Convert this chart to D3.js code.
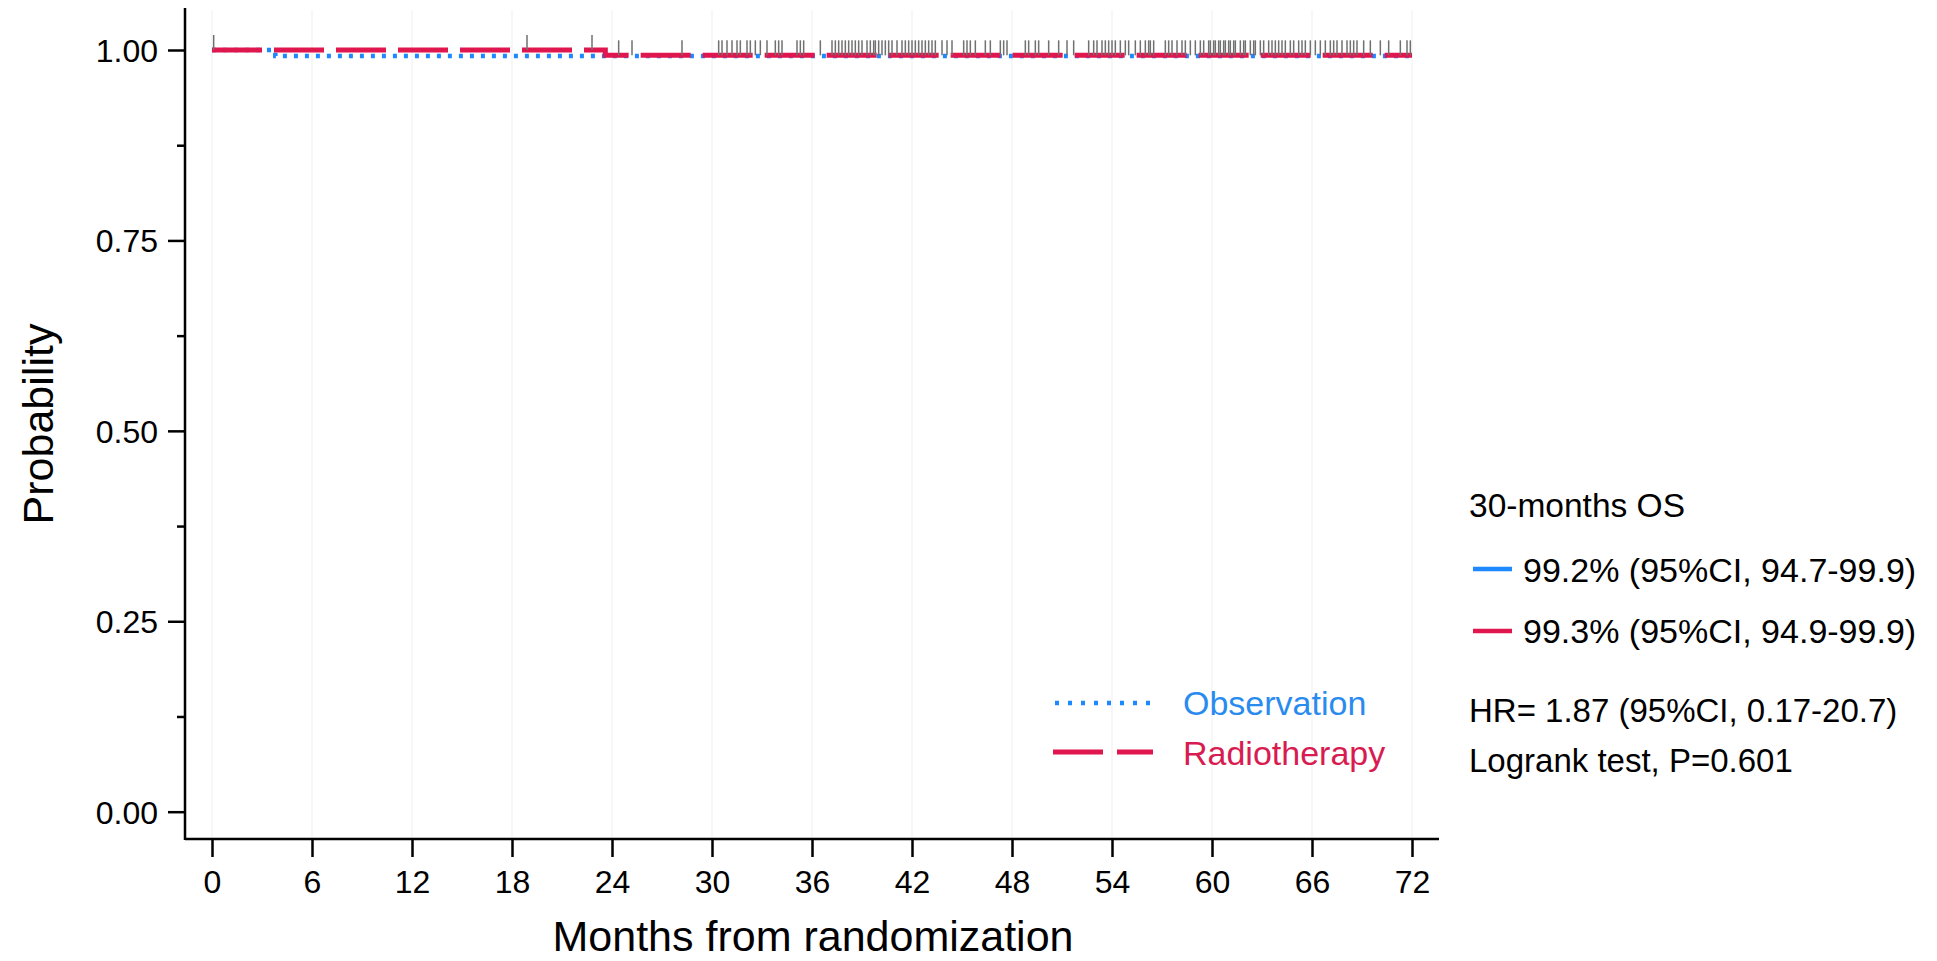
<!DOCTYPE html>
<html>
<head>
<meta charset="utf-8">
<style>
body { margin: 0; background: #fff; }
svg text { font-family: "Liberation Sans", Arial, sans-serif; }
</style>
</head>
<body>
<svg id="km" width="1937" height="961"></svg>
<script src="https://d3js.org/d3.v7.min.js"></script>
<script>

// tick values
var xTicks = [0, 6, 12, 18, 24, 30, 36, 42, 48, 54, 60, 66, 72];
var yMajor = [0, 0.25, 0.5, 0.75, 1];
var yMinor = [0.125, 0.375, 0.625, 0.875];

// Kaplan-Meier steps (months, survival)
var obsTime = [0, 3.8, 72];
var obsSurv = [1, 0.992, 0.992];
var radTime = [0, 23.6, 72];
var radSurv = [1, 0.993, 0.993];

var censorTimes = [0.1, 18.9, 22.8, 24.4, 25.2, 28.2,
  30.4, 30.6, 30.9, 31.2, 31.5, 31.7, 32.1, 32.3, 32.6, 32.9, 33.3, 33.8, 34.0, 34.2,
  35.1, 35.3, 35.5, 36.5, 37.2, 37.4, 37.6, 37.8, 38.0, 38.2, 38.4, 38.6, 38.8, 39.0,
  39.3, 39.5, 39.7, 39.8, 40.0, 40.2, 40.4, 40.6, 40.8, 41.1, 41.4, 41.6, 41.8, 42.0,
  42.2, 42.4, 42.6, 42.8, 43.0, 43.2, 43.4, 43.8, 44.1, 44.4, 45.1, 45.3, 45.5, 45.8,
  46.4, 46.7, 47.3, 47.5, 47.7, 48.8, 49.0, 49.4, 49.6, 50.2, 50.8, 51.3, 51.7,
  52.6, 52.9, 53.1, 53.4, 53.6, 53.8, 54.0, 54.2, 54.5, 54.8, 55.0, 55.4, 55.7, 56.0,
  56.2, 56.3, 56.5, 57.2, 57.4, 57.6, 57.9, 58.2, 58.4, 58.7, 59.0, 59.3, 59.5, 59.8,
  59.9, 60.1, 60.2, 60.4, 60.5, 60.7, 60.8, 61.0, 61.1, 61.3, 61.4, 61.7, 61.9, 62.0,
  62.3, 62.5, 62.6, 62.9, 63.1, 63.4, 63.6, 63.8, 64.0, 64.2, 64.4, 64.7, 64.9, 65.2,
  65.4, 65.6, 65.9, 66.2, 66.5, 66.8, 67.1, 67.3, 67.5, 67.8, 68.1, 68.3, 68.5, 68.7,
  69.1, 69.5, 70.1, 70.6, 71.3, 71.7, 71.9];

var groups = ["Observation", "Radiotherapy"];
var osLines = ["99.2% (95%CI, 94.7-99.9)", "99.3% (95%CI, 94.9-99.9)"];
var statLines = ["HR= 1.87 (95%CI, 0.17-20.7)", "Logrank test, P=0.601"];

var blue = "#1e88ff", red = "#e0174f";

var svg = d3.select("#km");
var x = d3.scaleLinear().domain([0, 72]).range([212, 1412]);
var y = d3.scaleLinear().domain([0, 1]).range([811.7, 50]);
var axisX = 185, axisY = 839;

// faint vertical grid
svg.append("g").selectAll("line").data(xTicks).enter().append("line")
  .attr("x1", function(d) { return x(d); }).attr("x2", function(d) { return x(d); })
  .attr("y1", 10).attr("y2", axisY)
  .attr("stroke", "#f7f7f7").attr("stroke-width", 2);

// axes
var gy = svg.append("g").attr("transform", "translate(" + axisX + ",0)")
  .call(d3.axisLeft(y).tickValues(yMajor).tickSize(17).tickPadding(10).tickFormat(d3.format(".2f")));
gy.append("g").call(d3.axisLeft(y).tickValues(yMinor).tickSize(8).tickFormat(""));
var gx = svg.append("g").attr("transform", "translate(0," + axisY + ")")
  .call(d3.axisBottom(x).tickValues(xTicks).tickSize(18).tickPadding(13));
svg.selectAll(".domain").remove();
svg.selectAll(".tick line").attr("stroke", "#000").attr("stroke-width", 2.5);
svg.selectAll(".tick text").attr("font-size", 32).attr("fill", "#000")
  .style("font-family", "'Liberation Sans', Arial, sans-serif");
gy.selectAll(".tick text").attr("dy", "0.36em");

svg.append("line").attr("x1", axisX).attr("x2", axisX).attr("y1", 8).attr("y2", axisY + 1)
  .attr("stroke", "#000").attr("stroke-width", 2.5);
svg.append("line").attr("x1", axisX).attr("x2", 1439).attr("y1", axisY).attr("y2", axisY)
  .attr("stroke", "#000").attr("stroke-width", 2.5);

// axis titles
svg.append("text").attr("x", 813).attr("y", 951).attr("text-anchor", "middle")
  .attr("font-size", 43).attr("fill", "#000").text("Months from randomization");
svg.append("text").attr("transform", "translate(53,424) rotate(-90)").attr("text-anchor", "middle")
  .attr("font-size", 43).attr("fill", "#000").text("Probability");

// survival curves
var step = d3.line().curve(d3.curveStepAfter)
  .x(function(d) { return x(d[0]); }).y(function(d) { return y(d[1]); });
var obsData = d3.zip(obsTime, obsSurv);
var radData = d3.zip(radTime, radSurv);

svg.append("path").datum(obsData).attr("d", step).attr("fill", "none")
  .attr("stroke", blue).attr("stroke-width", 4.5).attr("stroke-dasharray", "4,7");
svg.append("path").datum(radData).attr("d", step).attr("fill", "none")
  .attr("stroke", red).attr("stroke-width", 5).attr("stroke-dasharray", "50,12");

// censor marks sit on top of the upper curve
function survAt(times, surv, t) {
  var i = d3.bisectRight(times, t) - 1;
  return surv[Math.max(0, i)];
}
function topAt(t) {
  return y(Math.max(survAt(obsTime, obsSurv, t), survAt(radTime, radSurv, t)));
}
svg.append("g").selectAll("line").data(censorTimes).enter().append("line")
  .attr("x1", function(d) { return x(d); }).attr("x2", function(d) { return x(d); })
  .attr("y1", function(d) { return topAt(d); })
  .attr("y2", function(d) { return topAt(d) - 15; })
  .attr("stroke", "#707070").attr("stroke-width", 1.5);

// legend inside plot
var leg = svg.append("g");
leg.append("line").attr("x1", 1055).attr("x2", 1152).attr("y1", 703).attr("y2", 703)
  .attr("stroke", blue).attr("stroke-width", 4.5).attr("stroke-dasharray", "4,9");
leg.append("line").attr("x1", 1053).attr("x2", 1153).attr("y1", 752).attr("y2", 752)
  .attr("stroke", red).attr("stroke-width", 5).attr("stroke-dasharray", "50,14");
leg.append("text").attr("x", 1183).attr("y", 715).attr("font-size", 34).attr("fill", "#2a8bef").text(groups[0]);
leg.append("text").attr("x", 1183).attr("y", 765).attr("font-size", 34).attr("fill", "#d81b50").text(groups[1]);

// annotation block on the right
var ann = svg.append("g");
ann.append("text").attr("x", 1469).attr("y", 517).attr("font-size", 33.5).attr("fill", "#000").text("30-months OS");
ann.append("line").attr("x1", 1473).attr("x2", 1512).attr("y1", 569).attr("y2", 569)
  .attr("stroke", blue).attr("stroke-width", 4.5);
ann.append("text").attr("x", 1523).attr("y", 582).attr("font-size", 34).attr("fill", "#000").text(osLines[0]);
ann.append("line").attr("x1", 1473).attr("x2", 1512).attr("y1", 631).attr("y2", 631)
  .attr("stroke", red).attr("stroke-width", 4.5);
ann.append("text").attr("x", 1523).attr("y", 643).attr("font-size", 34).attr("fill", "#000").text(osLines[1]);
ann.append("text").attr("x", 1469).attr("y", 722).attr("font-size", 33).attr("fill", "#000").text(statLines[0]);
ann.append("text").attr("x", 1469).attr("y", 772).attr("font-size", 33).attr("fill", "#000").text(statLines[1]);

</script>
</body>
</html>
